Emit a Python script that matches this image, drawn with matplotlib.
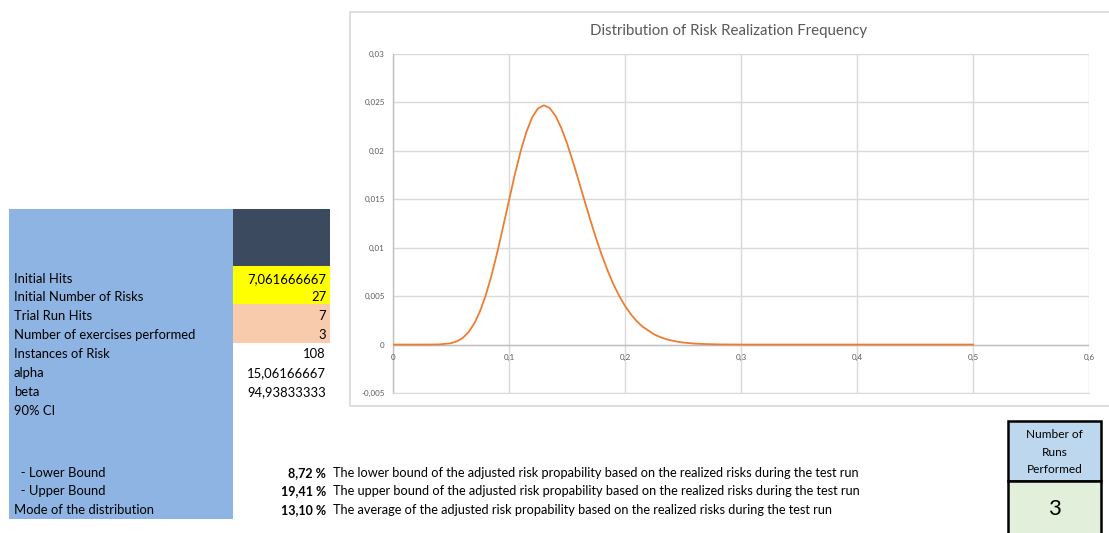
import matplotlib
matplotlib.use("Agg")
import matplotlib.pyplot as plt
from matplotlib.patches import Rectangle

# ---------------- data ----------------
x_vals = [0.00, 0.01, 0.02, 0.03, 0.04, 0.05, 0.055, 0.06, 0.065, 0.07, 0.075,
          0.08, 0.085, 0.09, 0.095, 0.10, 0.105, 0.11, 0.115, 0.12, 0.125, 0.13,
          0.135, 0.14, 0.145, 0.15, 0.155, 0.16, 0.165, 0.17, 0.175, 0.18, 0.185,
          0.19, 0.195, 0.20, 0.205, 0.21, 0.215, 0.22, 0.225, 0.23, 0.235, 0.24,
          0.245, 0.25, 0.26, 0.27, 0.28, 0.29, 0.30, 0.32, 0.35, 0.40, 0.45, 0.50]
y_vals = [0.0, 0.0, 0.0, 0.000001, 0.000016, 0.00014, 0.00033, 0.00067, 0.00126,
          0.00216, 0.00343, 0.0051, 0.00718, 0.00957, 0.0122, 0.01489, 0.01755,
          0.01994, 0.02195, 0.02347, 0.02438, 0.0247, 0.02443, 0.02363, 0.02238,
          0.02079, 0.01893, 0.01694, 0.0149, 0.0129, 0.01099, 0.00923, 0.00764,
          0.00623, 0.00502, 0.00399, 0.00313, 0.00243, 0.00186, 0.00146, 0.00106,
          0.00079, 0.00058, 0.00042, 0.0003, 0.00021, 0.0001, 0.00005, 0.00002,
          0.00001, 0.0, 0.0, 0.0, 0.0, 0.0, 0.0]

x_ticks = [0.0, 0.1, 0.2, 0.3, 0.4, 0.5, 0.6]
x_tick_labels = ["0", "0,1", "0,2", "0,3", "0,4", "0,5", "0,6"]
y_ticks = [-0.005, 0.0, 0.005, 0.01, 0.015, 0.02, 0.025, 0.03]
y_tick_labels = ["-0,005", "0", "0,005", "0,01", "0,015", "0,02", "0,025", "0,03"]
chart_title = "Distribution of Risk Realization Frequency"

row_labels = ["Initial Hits", "Initial Number of Risks", "Trial Run Hits",
              "Number of exercises performed", "Instances of Risk", "alpha",
              "beta", "90% CI"]
row_values = ["7,061666667", "27", "7", "3", "108", "15,06166667",
              "94,93833333", ""]
bound_labels = ["  - Lower Bound", "  - Upper Bound", "Mode of the distribution"]
bound_values = ["8,72 %", "19,41 %", "13,10 %"]
bound_desc = [
    "The lower bound of the adjusted risk propability based on the realized risks during the test run",
    "The upper bound of the adjusted risk propability based on the realized risks during the test run",
    "The average of the adjusted risk propability based on the realized risks during the test run",
]
runs_header = "Number of\nRuns\nPerformed"
runs_value = "3"

# ---------------- layout helpers ----------------
W, H = 1109, 533
FONT = ["Lato", "DejaVu Sans"]
fig = plt.figure(figsize=(W / 100, H / 100), dpi=100)


def fx(px):
    return px / W


def fy(py):
    return 1 - py / H


def rect(x0, y0, x1, y1, fc, ec="none", lw=0, z=0):
    r = Rectangle((fx(x0), fy(y1)), fx(x1) - fx(x0), fy(y0) - fy(y1),
                  transform=fig.transFigure, facecolor=fc, edgecolor=ec,
                  linewidth=lw, zorder=z)
    fig.add_artist(r)


def text(px, py, s, **kw):
    kw.setdefault("family", FONT)
    kw.setdefault("fontsize", 9.4)
    kw.setdefault("va", "center")
    kw.setdefault("color", "black")
    fig.text(fx(px), fy(py), s, **kw)


# ---------------- chart frame ----------------
rect(350, 12, 1112, 406, "white", ec="#D9D9D9", lw=1.2, z=0)

ax = fig.add_axes([fx(393), fy(393), fx(1089) - fx(393), fy(54) - fy(393)])
ax.set_xlim(0, 0.6)
ax.set_ylim(-0.005, 0.03)
ax.set_xticks(x_ticks)
ax.set_yticks(y_ticks)
ax.set_yticklabels(y_tick_labels, family=FONT, fontsize=5.8, color="#595959")
ax.set_xticklabels([])
ax.grid(True, color="#D9D9D9", linewidth=1.0)
ax.set_axisbelow(True)
for side in ["top", "right"]:
    ax.spines[side].set_visible(False)
ax.spines["bottom"].set_color("#D9D9D9")
ax.spines["left"].set_color("#BFBFBF")
ax.spines["left"].set_linewidth(1.0)
ax.tick_params(axis="both", length=0, pad=6)
ax.axhline(0, color="#BFBFBF", linewidth=1.0, zorder=1)
for xt, lab in zip(x_ticks, x_tick_labels):
    ax.text(xt, -0.0013, lab, ha="center", va="center", family=FONT,
            fontsize=5.8, color="#595959")
ax.plot(x_vals, y_vals, color="#ED7D31", linewidth=1.3, zorder=3)
fig.text(fx(729), fy(31), chart_title, ha="center", va="center",
         family=FONT, fontsize=10.8, color="#595959")

# ---------------- left table ----------------
rect(9, 209, 233, 519, "#8DB4E2")
rect(233, 209, 330, 266, "#3C4A5F")
rect(233, 266, 330, 304, "#FFFF00")
rect(233, 304, 330, 343, "#F8CBAD")

row_y = [279, 297, 316, 335, 354, 373, 392, 411]
for yy, lab, val in zip(row_y, row_labels, row_values):
    text(14, yy, lab, ha="left")
    if val:
        text(326, yy, val, ha="right")

bound_y = [473, 491, 510]
for yy, lab, val, desc in zip(bound_y, bound_labels, bound_values, bound_desc):
    text(14, yy, lab, ha="left")
    text(326, yy, val, ha="right", fontweight="bold", fontsize=9.0)
    text(333, yy, desc, ha="left", fontsize=9.2)

# ---------------- runs box ----------------
rect(1008, 421, 1101, 481, "#BDD7EE", ec="black", lw=1.8, z=2)
rect(1008, 481, 1101, 540, "#E2EFDA", ec="black", lw=1.8, z=2)
text(1054.5, 452, runs_header, ha="center", fontsize=8.6, linespacing=1.7,
     zorder=5)
text(1054.5, 509, runs_value, ha="center", fontsize=16, zorder=5)

fig.savefig("out.png", dpi=100, facecolor="white")
